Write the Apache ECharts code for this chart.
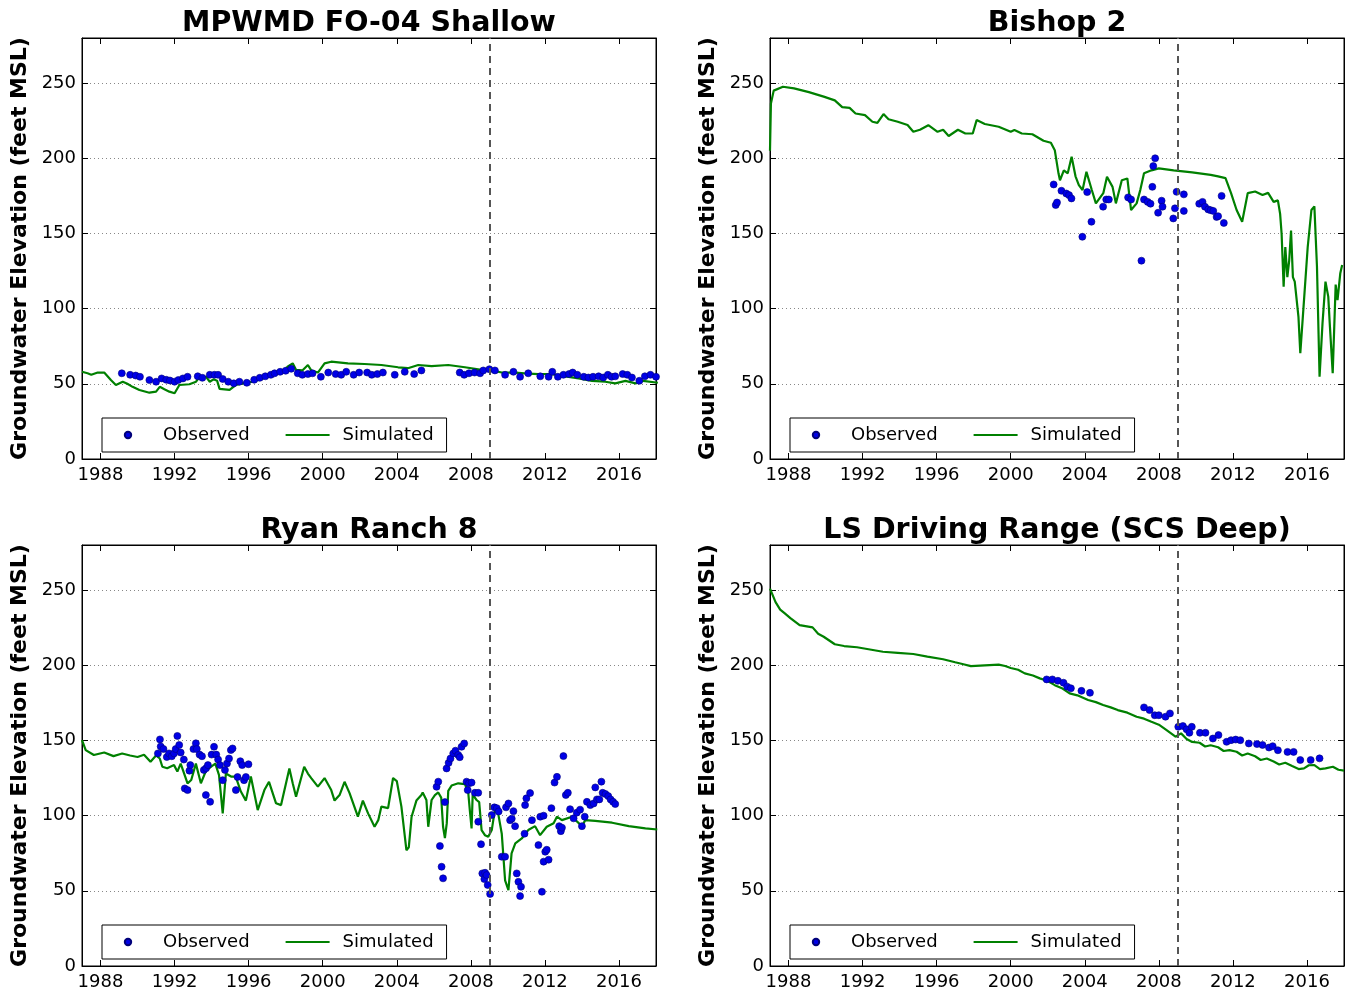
<!DOCTYPE html>
<html><head><meta charset="utf-8">
<script src="https://cdn.jsdelivr.net/npm/echarts@6/dist/echarts.min.js"></script>
<style>html,body{margin:0;padding:0;background:#fff}#c{width:1351px;height:992px}</style>
</head><body><div id="c"></div>
<script>
const panelTitles = ['MPWMD FO-04 Shallow', 'Bishop 2', 'Ryan Ranch 8', 'LS Driving Range (SCS Deep)'];
const yAxisTitle = 'Groundwater Elevation (feet MSL)';
const legendNames = ['Observed', 'Simulated'];
const yearTicks = [1988, 1992, 1996, 2000, 2004, 2008, 2012, 2016];
const elevTicks = [0, 50, 100, 150, 200, 250];
const dividerYear = 2009;

const fo04Sim = [[1987.0,58],[1987.3,57],[1987.5,56],[1987.85,57.5],[1988.2,57.5],[1988.56,52.5],[1988.83,49.2],[1989.2,51.4],[1989.45,50],[1989.73,48],[1990.1,45.9],[1990.64,44.1],[1991.0,44.8],[1991.2,48],[1991.45,46.4],[1991.72,44.8],[1992.0,43.7],[1992.26,49.2],[1992.8,49.7],[1993.16,51.4],[1993.35,54.6],[1993.7,54.6],[1993.9,51.4],[1994.1,53],[1994.3,52],[1994.43,46.6],[1994.97,46],[1995.3,49.2],[1995.7,50.3],[1996.23,51.4],[1996.77,53.6],[1997.32,56.5],[1997.86,58],[1998.1,61.4],[1998.38,63.6],[1998.56,59.3],[1998.9,58.9],[1999.2,62.5],[1999.38,58.9],[1999.74,57.5],[2000.1,63.6],[2000.46,64.7],[2001.36,63.6],[2002.26,63.2],[2003.17,62.5],[2004.07,61],[2004.6,60.4],[2005.16,62.5],[2005.88,61.8],[2006.78,62.5],[2007.68,61],[2008.58,59.3],[2009.12,58.9],[2009.67,57.5],[2010.4,57.5],[2010.9,57],[2011.65,56.5],[2012.37,56.5],[2013.1,55],[2013.82,53.6],[2014.54,52],[2015.26,51.4],[2015.8,50.3],[2016.35,52],[2016.9,50.3],[2017.3,52],[2018.1,50.7]];
const fo04Obs = [[1989.15,57],[1989.6,56],[1989.9,55.5],[1990.13,54.7],[1990.64,52.5],[1991.0,51.4],[1991.3,53.6],[1991.55,52.7],[1991.75,52.2],[1992.0,51.4],[1992.2,52.5],[1992.45,53.6],[1992.7,54.7],[1993.25,55],[1993.5,54],[1993.9,56],[1994.15,56],[1994.35,56],[1994.6,53.2],[1994.9,51.4],[1995.2,50.3],[1995.5,51.4],[1995.9,50.7],[1996.3,52.7],[1996.6,54],[1996.9,55],[1997.2,56],[1997.4,57],[1997.7,58],[1998.0,58.7],[1998.3,60],[1998.65,57],[1998.9,56],[1999.2,56.5],[1999.45,57],[1999.9,54.7],[2000.3,57.5],[2000.7,56.5],[2001.0,56],[2001.27,58],[2001.67,56],[2001.97,57.5],[2002.4,57.5],[2002.65,56],[2002.95,56.5],[2003.25,57.5],[2003.89,56],[2004.43,58],[2004.94,56.5],[2005.33,58.9],[2007.4,57.5],[2007.64,56],[2007.9,57],[2008.2,57.5],[2008.5,57],[2008.67,58.9],[2009.0,59.7],[2009.3,58.9],[2009.85,56],[2010.3,58],[2010.66,54.7],[2011.1,57],[2011.75,55],[2012.2,54.7],[2012.4,58],[2012.7,54.7],[2013.0,56],[2013.3,56.5],[2013.5,57.5],[2013.75,56],[2014.1,54.7],[2014.35,54.2],[2014.6,54.7],[2014.9,55],[2015.15,54.2],[2015.4,56],[2015.6,54.7],[2015.8,55],[2016.2,56.5],[2016.45,56],[2016.7,54.2],[2017.1,52],[2017.4,55],[2017.7,56],[2018.0,54.7]];

const bishopSim = [[1987.0,205],[1987.05,236.5],[1987.2,245],[1987.7,247.6],[1988.3,246.5],[1989.1,244],[1989.9,241],[1990.5,238.5],[1990.9,234],[1991.3,233.5],[1991.62,229.8],[1992.13,228.7],[1992.53,224.3],[1992.8,223.6],[1993.13,229.4],[1993.4,226],[1993.9,224.3],[1994.43,222.1],[1994.74,217.6],[1995.1,219],[1995.55,222],[1996.05,217.6],[1996.35,219],[1996.65,214.8],[1997.15,219],[1997.55,216.5],[1997.95,216.5],[1998.16,225.4],[1998.6,222.8],[1999.35,221],[2000.0,217.6],[2000.2,218.8],[2000.6,216.5],[2001.17,216],[2001.77,211.7],[2002.17,210.3],[2002.38,205.4],[2002.58,190],[2002.66,185.4],[2002.87,192],[2003.08,190],[2003.29,201],[2003.5,188],[2003.68,182.2],[2003.88,178.9],[2004.09,191],[2004.38,178.9],[2004.6,170],[2005.0,176.8],[2005.2,187.7],[2005.5,181],[2005.68,170],[2006.0,185.4],[2006.3,186.6],[2006.5,165.6],[2006.8,170],[2007.0,179],[2007.2,190],[2007.6,192],[2008.0,193.3],[2008.8,192],[2009.8,190.6],[2010.8,189],[2011.2,188],[2011.6,186.8],[2011.9,176.8],[2012.2,165.6],[2012.5,157.8],[2012.8,176.8],[2013.2,177.9],[2013.6,175.6],[2013.9,177],[2014.2,171],[2014.43,172],[2014.55,163],[2014.63,150],[2014.74,114.6],[2014.83,141],[2014.94,121],[2015.04,132],[2015.14,152],[2015.24,121],[2015.34,118],[2015.54,94.6],[2015.64,70.4],[2015.84,105.7],[2016.04,141],[2016.24,165.6],[2016.4,168],[2016.54,128],[2016.68,54.7],[2016.84,90.4],[2017.0,118],[2017.15,108],[2017.24,88],[2017.39,57],[2017.55,116],[2017.65,105.7],[2017.8,123.6],[2017.9,129]];
const bishopObs = [[2002.32,182.6],[2002.43,168.9],[2002.5,170.6],[2002.74,178.4],[2003.0,176.6],[2003.15,175.5],[2003.28,173.3],[2003.87,147.8],[2004.13,177.5],[2004.36,157.8],[2004.99,167.8],[2005.16,172.6],[2005.3,172.6],[2006.34,174],[2006.5,172.6],[2007.06,131.9],[2007.2,172.6],[2007.4,171],[2007.55,169.8],[2007.65,181],[2007.7,194.8],[2007.8,200],[2007.96,163.8],[2008.15,171.8],[2008.2,167.8],[2008.78,160],[2008.87,166.7],[2008.96,177.7],[2009.35,176],[2009.35,165],[2010.18,169.8],[2010.36,171],[2010.49,167.8],[2010.67,166],[2010.8,165.5],[2010.94,165],[2011.12,161],[2011.2,161.5],[2011.39,175],[2011.51,157]];

const ryanSim = [[1987.0,150.3],[1987.2,143.6],[1987.64,140.3],[1988.2,142],[1988.7,139.6],[1989.17,141.3],[1989.6,140],[1990.0,139],[1990.35,140.5],[1990.7,135.8],[1991.0,140],[1991.2,138],[1991.34,132.5],[1991.6,131.5],[1991.97,133.6],[1992.15,129.3],[1992.33,134.6],[1992.7,121.5],[1992.9,123.7],[1993.15,134.6],[1993.42,121.5],[1993.7,130],[1993.96,132.5],[1994.2,134.6],[1994.4,127],[1994.6,101.5],[1994.77,128],[1995.05,126],[1995.3,126],[1995.58,116],[1995.85,110],[1996.12,126],[1996.49,103.7],[1996.85,117],[1997.1,122.5],[1997.48,108.2],[1997.75,107],[1998.2,131.4],[1998.38,121.5],[1998.56,112.6],[1999.0,132.5],[1999.2,128],[1999.38,125],[1999.74,119.3],[2000.1,125],[2000.46,117],[2000.64,110],[2000.91,113.7],[2001.18,122.5],[2001.45,115],[2001.9,99.3],[2002.17,110],[2002.45,101.5],[2002.8,92.6],[2003.0,97],[2003.17,106],[2003.53,105],[2003.8,125],[2004.0,123],[2004.25,106],[2004.52,77],[2004.65,79],[2004.8,99.3],[2005.06,110],[2005.33,113.7],[2005.4,115.4],[2005.6,110.4],[2005.7,92.6],[2005.8,92.6],[2005.88,110.4],[2006.06,113.7],[2006.24,115.4],[2006.4,112],[2006.5,92.6],[2006.6,85],[2006.7,95],[2006.78,116.5],[2006.96,120],[2007.32,121.5],[2007.68,121],[2007.86,115.4],[2007.95,103],[2008.04,91.5],[2008.1,114],[2008.31,110.4],[2008.45,109],[2008.58,90.4],[2008.76,87],[2008.94,86],[2009.13,90.4],[2009.3,104],[2009.49,100.5],[2009.67,88],[2009.85,57],[2010.03,50.5],[2010.2,74.9],[2010.4,81.5],[2010.75,84.8],[2011.1,90.4],[2011.47,93],[2011.74,87],[2012.1,92.6],[2012.47,95],[2012.65,99.3],[2012.92,97],[2013.46,99.3],[2014.0,93],[2014.18,97],[2014.72,96.5],[2015.63,95.3],[2016.53,93],[2017.43,91.5],[2018.07,90.8]];
const ryanObs = [[1991.1,141.4],[1991.21,150.7],[1991.25,146],[1991.4,144.3],[1991.58,139],[1991.7,141.4],[1991.85,139.5],[1991.97,141.4],[1992.06,144.3],[1992.15,153],[1992.25,147],[1992.33,142],[1992.5,137.3],[1992.55,118.1],[1992.7,117],[1992.8,129.9],[1992.85,133.6],[1993.02,144.3],[1993.15,148.1],[1993.2,144.3],[1993.35,140.6],[1993.48,139.5],[1993.58,130.4],[1993.69,113.7],[1993.7,131.5],[1993.8,133.6],[1993.92,109.2],[1994.0,140.6],[1994.13,145.8],[1994.25,140.6],[1994.35,137.3],[1994.45,133.6],[1994.6,123.6],[1994.72,130.4],[1994.83,134.7],[1994.94,138],[1995.04,143.6],[1995.13,144.7],[1995.31,117],[1995.4,125.7],[1995.55,136.2],[1995.65,133.6],[1995.75,123.6],[1995.85,125.7],[1995.99,134.2],[2006.15,119.2],[2006.24,122.6],[2006.33,79.8],[2006.42,66],[2006.5,58.3],[2006.6,109],[2006.69,131.4],[2006.8,135.1],[2006.9,138],[2007.05,141.4],[2007.17,143.2],[2007.32,140.4],[2007.4,138.9],[2007.5,145.8],[2007.64,148],[2007.77,122.6],[2007.83,117],[2007.9,121.5],[2008.04,122],[2008.22,115.2],[2008.4,115.2],[2008.4,96],[2008.55,81],[2008.62,61.6],[2008.73,57.8],[2008.77,62],[2008.85,60.5],[2008.91,53.9],[2009.04,47.9],[2009.13,100.4],[2009.27,105.5],[2009.4,105],[2009.5,102.8],[2009.67,72.7],[2009.85,72.7],[2009.9,105.5],[2010.03,108.1],[2010.12,97],[2010.21,98],[2010.3,103],[2010.39,93],[2010.48,61.6],[2010.57,56],[2010.66,46.5],[2010.71,52.7],[2010.9,88],[2010.93,107],[2011.0,111.5],[2011.2,115],[2011.3,97],[2011.65,80.4],[2011.75,99.3],[2011.84,49.4],[2011.93,100],[2011.93,69.4],[2012.02,76],[2012.1,77.3],[2012.2,70.7],[2012.35,105],[2012.52,122],[2012.65,125.8],[2012.77,93],[2012.86,89.7],[2012.92,92],[2013.0,139.6],[2013.13,113.7],[2013.24,115.2],[2013.36,104.3],[2013.55,98.2],[2013.72,102],[2013.9,104],[2014.0,93],[2014.15,99.3],[2014.27,109.2],[2014.45,107],[2014.63,108.1],[2014.72,118.8],[2014.81,110.8],[2014.94,110.8],[2015.05,122.6],[2015.12,115.2],[2015.27,114.4],[2015.42,113],[2015.55,110.8],[2015.68,109.2],[2015.8,107.7]];

const lsSim = [[1987.0,251],[1987.3,242],[1987.55,237],[1987.8,234.5],[1988.1,231.4],[1988.6,226.7],[1989.3,225.2],[1989.6,221],[1989.9,219],[1990.5,214],[1991.0,212.8],[1991.7,212],[1992.4,210.5],[1993.1,209],[1993.9,208.3],[1994.74,207.5],[1995.5,205.8],[1996.35,204],[1997.0,202],[1997.5,200.5],[1997.85,199.4],[1998.6,200],[1999.35,200.4],[1999.7,199.5],[2000.0,198.2],[2000.4,197],[2000.76,194.6],[2001.2,193.2],[2001.57,191.3],[2002.0,189.5],[2002.38,186.8],[2002.8,184.5],[2003.18,181.3],[2003.6,180],[2004.18,176.9],[2004.6,175.5],[2004.99,173.6],[2005.4,172],[2005.78,170.2],[2006.3,168.5],[2006.8,165.8],[2007.2,164.5],[2007.6,162.4],[2008.0,160.5],[2008.4,157],[2008.9,152.5],[2009.2,154.7],[2009.5,151],[2009.8,149],[2010.2,148.5],[2010.5,146],[2010.8,146.8],[2011.2,145.5],[2011.5,143],[2011.82,143.6],[2012.2,142.5],[2012.5,140],[2012.8,141.3],[2013.2,139.5],[2013.5,137],[2013.83,138],[2014.2,136],[2014.5,134],[2014.83,135.2],[2015.2,133],[2015.55,131],[2015.84,131.4],[2016.1,133.5],[2016.4,133.6],[2016.7,131],[2017.0,131.4],[2017.4,132.5],[2017.7,130.5],[2018.0,130]];
const lsObs = [[2001.94,190.6],[2002.25,190.6],[2002.55,189.7],[2002.85,188.4],[2003.05,185.8],[2003.25,184.7],[2003.82,183],[2004.28,181.7],[2007.2,172],[2007.5,170.2],[2007.78,166.8],[2008.0,166.8],[2008.36,165.8],[2008.6,168],[2009.05,159.1],[2009.3,159.6],[2009.5,157.4],[2009.65,155.1],[2009.78,159.1],[2010.22,155.1],[2010.52,155.1],[2010.92,151.3],[2011.22,153.6],[2011.66,149.1],[2011.9,150.2],[2012.15,150.6],[2012.4,150.2],[2012.86,148],[2013.3,147.6],[2013.6,147],[2013.95,145.3],[2014.15,146.2],[2014.43,143.5],[2014.95,142.4],[2015.28,142.4],[2015.64,137],[2016.2,137],[2016.68,138.1]];

const simSets = [fo04Sim, bishopSim, ryanSim, lsSim];
const obsSets = [fo04Obs, bishopObs, ryanObs, lsObs];

const FONT = "'DejaVu Sans', sans-serif";
const grids = [
  {left: 82, top: 38, width: 574, height: 421},
  {left: 770, top: 38, width: 574, height: 421},
  {left: 82, top: 545, width: 574, height: 421},
  {left: 770, top: 545, width: 574, height: 421}
];

const xAxes = [], yAxes = [], series = [], legends = [];
grids.forEach((g, i) => {
  const tickCommon = {show: true, inside: true, length: 6, lineStyle: {color: '#000', width: 1}};
  xAxes.push({
    type: 'value', gridIndex: i, position: 'bottom', min: 1987, max: 2018,
    axisLine: {show: true, onZero: false, lineStyle: {color: '#000', width: 1}},
    axisTick: Object.assign({customValues: yearTicks}, tickCommon),
    axisLabel: {customValues: yearTicks, formatter: v => String(v), fontSize: 18, fontFamily: FONT, color: '#000', margin: 7},
    splitLine: {show: false}
  });
  xAxes.push({
    type: 'value', gridIndex: i, position: 'top', min: 1987, max: 2018,
    name: panelTitles[i], nameLocation: 'middle', nameGap: 0,
    nameTextStyle: {fontSize: 28.5, fontWeight: 'bold', fontFamily: FONT, color: '#000', verticalAlign: 'bottom'},
    axisLine: {show: true, onZero: false, lineStyle: {color: '#000', width: 1}},
    axisTick: Object.assign({customValues: yearTicks}, tickCommon),
    axisLabel: {show: false},
    splitLine: {show: false}
  });
  yAxes.push({
    type: 'value', gridIndex: i, position: 'left', min: 0, max: 280, interval: 50,
    name: yAxisTitle, nameLocation: 'middle', nameGap: 51,
    nameTextStyle: {fontSize: 22, fontWeight: 'bold', fontFamily: FONT, color: '#000'},
    axisLine: {show: true, onZero: false, lineStyle: {color: '#000', width: 1}},
    axisTick: Object.assign({customValues: elevTicks}, tickCommon),
    axisLabel: {customValues: elevTicks, fontSize: 18, fontFamily: FONT, color: '#000', margin: 6},
    splitLine: {show: true, lineStyle: {color: '#888', type: [1, 3], width: 1}}
  });
  yAxes.push({
    type: 'value', gridIndex: i, position: 'right', min: 0, max: 280, interval: 50,
    axisLine: {show: true, onZero: false, lineStyle: {color: '#000', width: 1}},
    axisTick: Object.assign({customValues: elevTicks}, tickCommon),
    axisLabel: {show: false},
    splitLine: {show: false}
  });
  series.push({
    name: legendNames[1], type: 'line', xAxisIndex: 2 * i, yAxisIndex: 2 * i,
    data: simSets[i], symbol: 'none', showSymbol: false, z: 3,
    lineStyle: {color: '#008000', width: 2.2}, itemStyle: {color: '#008000'},
    markLine: {
      silent: true, symbol: 'none', label: {show: false},
      lineStyle: {color: '#555', type: [7, 5], width: 2},
      data: [{xAxis: dividerYear}]
    }
  });
  series.push({
    name: legendNames[0], type: 'line', xAxisIndex: 2 * i, yAxisIndex: 2 * i,
    data: obsSets[i], symbol: 'circle', symbolSize: 7, showSymbol: true, z: 4,
    lineStyle: {color: 'rgba(0,0,0,0)', width: 0, opacity: 0},
    itemStyle: {color: '#0000e6', borderColor: '#00007a', borderWidth: 0.6}
  });
  legends.push({
    left: g.left + 20, top: g.top + 380, orient: 'horizontal',
    data: [{name: legendNames[0]}, {name: legendNames[1], itemStyle: {opacity: 0}}],
    itemWidth: 44, itemHeight: 8, itemGap: 35,
    padding: [8, 13, 8, 4], borderColor: '#000', borderWidth: 1, backgroundColor: '#fff',
    selectedMode: false,
    textStyle: {fontSize: 18, fontFamily: FONT, color: '#000', padding: [0, 0, 0, 8]}
  });
});

const chart = echarts.init(document.getElementById('c'), null, {renderer: 'canvas'});
chart.setOption({
  animation: false,
  backgroundColor: '#fff',
  grid: grids.map(g => Object.assign({show: true, borderColor: '#000', borderWidth: 1, backgroundColor: 'transparent'}, g)),
  xAxis: xAxes,
  yAxis: yAxes,
  legend: legends,
  series: series
});
</script>
</body></html>
